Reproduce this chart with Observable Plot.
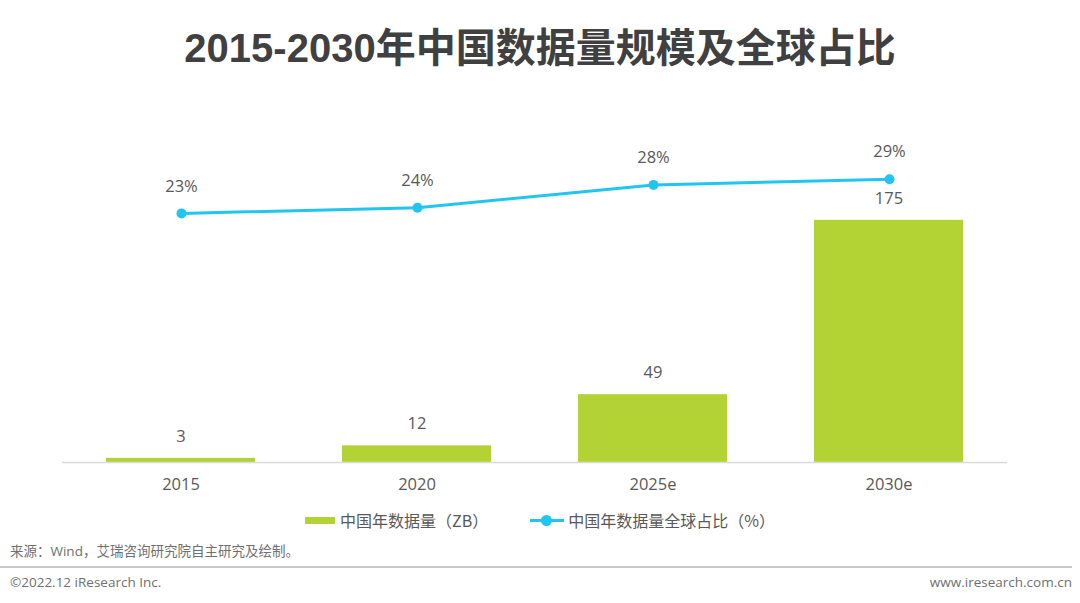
<!DOCTYPE html>
<html><head><meta charset="utf-8">
<script src="https://cdn.jsdelivr.net/npm/d3@7"></script>
<script src="https://cdn.jsdelivr.net/npm/@observablehq/plot@0.6"></script>
<style>
body{margin:0;width:1080px;height:603px;background:#fff;position:relative;overflow:hidden;font-family:"Open Sans","Noto Sans CJK SC",sans-serif;}
#title{position:absolute;top:16px;left:0;width:1080px;text-align:center;font-family:"Liberation Sans","Noto Sans CJK SC",sans-serif;font-weight:bold;font-size:40px;color:#404040;}
.layer{position:absolute;left:0;top:100px;}
#legend{position:absolute;top:508px;left:0;width:1080px;display:flex;justify-content:center;align-items:center;font-size:16px;color:#595959;font-family:"Noto Sans CJK SC",sans-serif;}
.lg{display:flex;align-items:center;margin:0 21px;}
.sw{width:30px;height:7px;background:#b3d234;margin-right:5px;}
.ln{position:relative;width:34px;height:3px;background:#21c6f0;margin-right:4px;}
.ln::after{content:"";position:absolute;left:11px;top:-4px;width:11px;height:11px;border-radius:50%;background:#21c6f0;}
#source{position:absolute;top:540px;left:10px;font-size:13.5px;color:#6f6f6f;}
#rule{position:absolute;top:566px;left:0;width:1072px;height:2px;background:#c8c8c8;}
#copy{position:absolute;top:573px;left:10px;font-size:13.5px;color:#6f6f6f;}
#site{position:absolute;top:573px;right:8px;font-size:13.5px;color:#6f6f6f;}
</style></head>
<body>
<div id="title">2015-2030年中国数据量规模及全球占比</div>
<div id="bars" class="layer"></div>
<div id="line" class="layer"></div>
<div id="legend">
  <div class="lg"><div class="sw"></div><span>中国年数据量（ZB）</span></div>
  <div class="lg"><div class="ln"></div><span>中国年数据量全球占比（%）</span></div>
</div>
<div id="source">来源：Wind，艾瑞咨询研究院自主研究及绘制。</div>
<div id="rule"></div>
<div id="copy">©2022.12 iResearch Inc.</div>
<div id="site">www.iresearch.com.cn</div>
<script>
const categories = ["2015", "2020", "2025e", "2030e"];
const volumes = [3, 12, 49, 175];
const shares = [23, 24, 28, 29];
const shareLabels = ["23%", "24%", "28%", "29%"];

const barData = categories.map((c, i) => ({cat: c, v: volumes[i]}));
const lineData = categories.map((c, i) => ({cat: c, p: shares[i], label: shareLabels[i]}));

const common = {
  width: 1080, height: 400,
  marginLeft: 62, marginRight: 73,
  style: {fontFamily: '"Open Sans","Noto Sans CJK SC",sans-serif', fontSize: "16.5px", color: "#595959", background: "transparent", overflow: "visible"},
};
const xBand = {domain: categories, paddingInner: 0.37, paddingOuter: 0.185};

const bars = Plot.plot({
  ...common,
  marginTop: 16, marginBottom: 38,
  x: {...xBand, label: null, tickSize: 0, tickPadding: 16},
  y: {domain: [0, 250], axis: null},
  marks: [
    Plot.barY(barData, {x: "cat", y: "v", fill: "#b3d234"}),
    Plot.ruleY([0], {stroke: "#d9d9d9", strokeWidth: 1.5}),
    Plot.text(barData, {x: "cat", y: "v", text: d => String(d.v), dy: -22, fill: "#595959", fontSize: 16.5}),
  ]
});
document.getElementById("bars").appendChild(bars);

const line = Plot.plot({
  ...common,
  marginTop: 73, marginBottom: 156,
  x: {...xBand, axis: null},
  y: {domain: [0, 30], axis: null},
  marks: [
    Plot.line(lineData, {x: "cat", y: "p", stroke: "#21c6f0", strokeWidth: 3}),
    Plot.dot(lineData, {x: "cat", y: "p", r: 5, fill: "#21c6f0"}),
    Plot.text(lineData, {x: "cat", y: "p", text: "label", dy: -27, fill: "#595959", fontSize: 16.5}),
  ]
});
document.getElementById("line").appendChild(line);
</script>
</body></html>
